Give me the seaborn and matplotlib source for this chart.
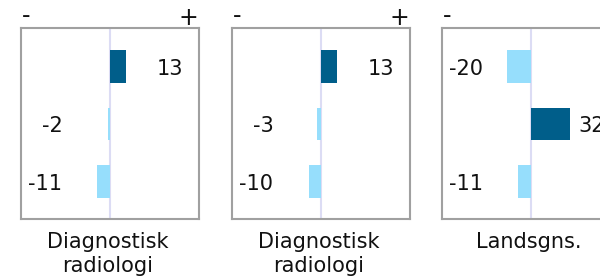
import pandas as pd
import numpy as np
import matplotlib
matplotlib.use("Agg")
import matplotlib.pyplot as plt
import matplotlib.transforms as mtransforms
import seaborn as sns

# === DATI ===
pannelli = ["Diagnostisk\nradiologi", "Diagnostisk\nradiologi", "Landsgns."]
righe = ["r1", "r2", "r3"]
valori_1 = [13, -2, -11]
valori_2 = [13, -3, -10]
valori_3 = [-20, 32, -11]
valori = [valori_1, valori_2, valori_3]

sns.set_style("white")
plt.rcParams["font.family"] = ["DejaVu Sans"]

colori = {"pos": "#005E8A", "neg": "#96DEFC"}

fig = plt.figure(figsize=(6, 2.8), dpi=100)
W, H = 600, 280
lefts = [21, 232, 442]

for left, nome, vals in zip(lefts, pannelli, valori):
    ax = fig.add_axes([left / W, (H - 219) / H, 178 / W, 191 / H])
    df = pd.DataFrame({"riga": righe, "valore": vals})
    df["segno"] = np.where(df["valore"] > 0, "pos", "neg")

    ax.axvline(0, color="#DCDCF4", lw=1.5, zorder=0)
    sns.barplot(data=df, x="valore", y="riga", hue="segno", order=righe,
                palette=colori, dodge=False, width=0.57, saturation=1,
                legend=False, ax=ax, zorder=2, linewidth=0, edgecolor="none")

    ax.set_xlim(-73, 73)
    ax.set_ylim(2.65, -0.67)
    ax.set_xticks([])
    ax.set_yticks([])
    ax.set_xlabel("")
    ax.set_ylabel("")
    for s in ax.spines.values():
        s.set_visible(True)
        s.set_color("#A0A0A0")
        s.set_linewidth(1.5)

    # etichette valori
    for i, v in enumerate(vals):
        if v > 0:
            ax.text(38.5, i + 0.04, str(v), ha="left", va="center", fontsize=15, color="#111111")
        else:
            ax.text(-39, i + 0.04, str(v), ha="right", va="center", fontsize=15, color="#111111")

    # segni - / +
    ax.text(0.005, 1 + 5 / 191, "-", transform=ax.transAxes, ha="left", va="baseline",
            fontsize=17, color="#111111")
    ax.text(0.995, 1 + 3 / 191, "+", transform=ax.transAxes, ha="right", va="baseline",
            fontsize=17, color="#111111")

    # nome pannello
    trans = mtransforms.blended_transform_factory(ax.transData, ax.transAxes)
    ax.text(-2, -0.07, nome, transform=trans, ha="center", va="top", fontsize=15,
            color="#111111", linespacing=1.2)

fig.savefig("out.png", dpi=100)
